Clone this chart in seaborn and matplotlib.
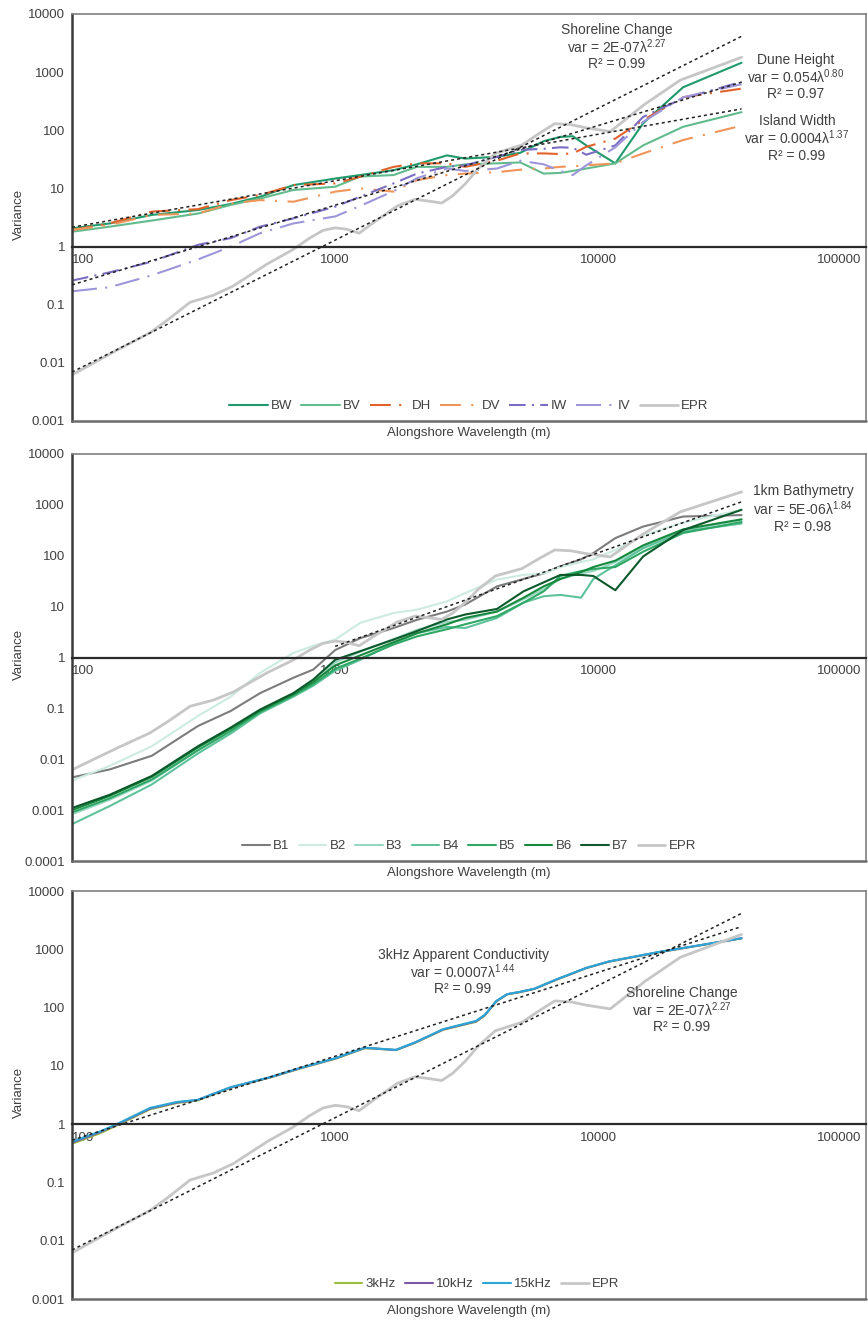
import numpy as np
import pandas as pd
import matplotlib
matplotlib.use("Agg")
import matplotlib.pyplot as plt
import seaborn as sns
from matplotlib.ticker import FixedLocator, NullLocator, NullFormatter

# ---------------------------------------------------------------- data
# Shoreline change (EPR) variance, shared by all three panels
lam_epr = [100, 128, 148, 198, 230, 281, 344, 410, 551, 692, 800, 900, 1000, 1100,
           1233, 1400, 1722, 2013, 2300, 2540, 2800, 3120, 3500, 4060, 5130, 6000,
           6830, 7870, 9000, 11100, 15000, 20500, 35000]
epr = [0.0062, 0.0115, 0.0165, 0.033, 0.054, 0.11, 0.145, 0.21, 0.5, 0.89, 1.4, 1.9,
       2.1, 2.0, 1.7, 2.6, 5.0, 6.5, 6.0, 5.6, 7.5, 12, 22, 40, 56, 90, 130, 125, 110,
       95, 280, 730, 1800]

# Panel 1: beach, dune and island metrics
lam1 = [100, 139, 201, 301, 401, 519, 694, 1000, 1245, 1667, 2045, 2660, 3120, 4120,
        5050, 6200, 7170, 8000, 9000, 11600, 14800, 21000, 35000]
bw = [2.06, 2.5, 3.5, 4.25, 5.4, 7.2, 11.4, 14.8, 17, 20.6, 26, 37, 32.6, 35, 41, 65,
      77, 79, 55, 27, 132, 550, 1450]
bv = [1.8, 2.2, 2.8, 3.7, 5.2, 6.7, 9.4, 10.7, 16, 17, 23.5, 23.5, 26, 27, 28, 18,
      18.5, 20, 22, 27, 55, 115, 205]
dh = [1.93, 2.5, 4.0, 4.4, 6.3, 7.7, 11.4, 12.2, 15.9, 23.5, 27, 27, 23.5, 30, 40, 40,
      39, 40, 52, 72, 150, 370, 520]
dv = [1.93, 2.35, 3.5, 3.7, 5.5, 6.3, 5.9, 8.8, 10, 8.8, 13.9, 17, 18, 19, 21, 22,
      23.5, 24, 25, 27, 40, 68, 120]
iw = [0.26, 0.36, 0.55, 1.07, 1.4, 2.2, 3.06, 4.85, 7.2, 12.2, 18, 23.5, 25, 35, 46,
      48, 51, 50, 38, 55, 170, 355, 680]
iv = [0.17, 0.2, 0.32, 0.6, 1.0, 1.7, 2.5, 3.3, 5.0, 9, 15, 22, 20, 22, 30, 26, 20,
      17, 25, 51, 140, 370, 620]

# Panel 2: bathymetry profiles
lam2 = [100, 139, 201, 301, 401, 519, 694, 826, 1000, 1245, 1667, 2045, 2660, 3120,
        4120, 5200, 6200, 7180, 8600, 9570, 11600, 14800, 21000, 35000]
b1 = [0.0044, 0.0063, 0.0117, 0.045, 0.089, 0.2, 0.4, 0.58, 1.4, 2.4, 3.8, 5.5, 8, 11,
      25, 35, 45, 62, 85, 113, 222, 375, 590, 630]
b2 = [0.0038, 0.0074, 0.018, 0.071, 0.17, 0.5, 1.23, 1.7, 2.25, 4.8, 7.5, 8.7, 12.7,
      18.5, 34, 42, 45, 60, 75, 85, 130, 250, 450, 800]
b3 = [0.00083, 0.0016, 0.0038, 0.015, 0.035, 0.085, 0.19, 0.35, 0.8, 1.3, 2.3, 3.5,
      5.0, 5.5, 8.0, 14, 22, 35, 45, 50, 75, 150, 320, 500]
b4 = [0.00053, 0.0012, 0.0032, 0.013, 0.032, 0.08, 0.17, 0.28, 0.55, 0.9, 1.9, 3.0,
      4.0, 3.8, 6.0, 12, 16, 17, 15, 35, 65, 140, 300, 430]
b5 = [0.0009, 0.0017, 0.004, 0.015, 0.036, 0.085, 0.18, 0.3, 0.6, 0.95, 1.8, 2.6, 3.6,
      4.5, 6.5, 12, 20, 40, 50, 55, 60, 120, 280, 460]
b6 = [0.001, 0.0019, 0.0045, 0.017, 0.04, 0.09, 0.19, 0.33, 0.7, 1.1, 2.0, 3.0, 4.5,
      6.0, 8.0, 15, 25, 35, 48, 60, 80, 160, 330, 520]
b7 = [0.0011, 0.002, 0.0047, 0.018, 0.042, 0.095, 0.2, 0.37, 0.9, 1.33, 2.25, 3.3, 5.6,
      7.0, 9.0, 20, 30, 42, 42, 40, 21, 97, 320, 800]

# Panel 3: apparent conductivity
lam3 = [100, 128, 148, 198, 250, 300, 400, 566, 736, 1000, 1294, 1400, 1700, 2000,
        2570, 3430, 3700, 4100, 4500, 5000, 5700, 7000, 9000, 11000, 17000, 25000, 35000]
c3k = [0.46, 0.7, 0.95, 1.8, 2.3, 2.55, 4.2, 6.3, 9.0, 13.2, 20, 19.8, 18.6, 24.5, 41.5,
       57, 73, 128, 168, 183, 208, 305, 475, 615, 890, 1190, 1540]
c10k = [0.48, 0.73, 0.98, 1.85, 2.35, 2.6, 4.25, 6.35, 9.1, 13.4, 20.3, 19.9, 18.7, 24.8,
        42, 58, 74, 129, 169, 184, 209, 308, 478, 618, 895, 1195, 1545]
c15k = [0.5, 0.75, 1.0, 1.9, 2.4, 2.6, 4.3, 6.4, 9.2, 13.5, 20.5, 20, 18.8, 25, 42.5, 59,
        75, 130, 170, 185, 210, 310, 480, 620, 900, 1200, 1550]

# Power-law fits  var = a * lambda^b  (coefficient, exponent, fitted range)
fit_shore = (2e-7, 2.27, [100, 35000])
fit_dune = (0.054, 0.80, [100, 35000])
fit_island = (0.0004, 1.37, [100, 35000])
fit_bathy = (5e-6, 1.84, [1000, 35000])
fit_cond = (0.0007, 1.44, [100, 35000])

xtick_vals = [100, 1000, 10000, 100000]
xtick_text = ["100", "1000", "10000", "100000"]

# ---------------------------------------------------------------- style
sns.set_style("white")
plt.rcParams["font.family"] = ["Liberation Sans", "DejaVu Sans"]
plt.rcParams["mathtext.fontset"] = "custom"
plt.rcParams["mathtext.rm"] = "Liberation Sans"
plt.rcParams["mathtext.it"] = "Liberation Sans:italic"
TXT = "#404040"
FS = 9.5

W, H = 868, 1324
fig = plt.figure(figsize=(W / 100, H / 100), dpi=100)


def add_axes(top, bottom):
    return fig.add_axes([72 / W, 1 - bottom / H, (866 - 72) / W, (bottom - top) / H])


def ftext(x, y, s, **kw):
    fig.text(x / W, 1 - y / H, s, ha="center", va="center", fontsize=kw.pop("fontsize", 10),
             color=TXT, **kw)


def style_axes(ax, ydecades):
    ax.set_xscale("log")
    ax.set_yscale("log")
    ax.set_xlim(100, 104000)
    ax.set_ylim(10.0 ** ydecades[0], 10.0 ** ydecades[-1])
    ax.spines["bottom"].set_position(("data", 1))
    ax.spines["bottom"].set_color("#2b2b2b")
    ax.spines["bottom"].set_linewidth(1.6)
    ax.spines["left"].set_color("#3a3a3a")
    ax.spines["left"].set_linewidth(1.8)
    for s in ("top", "right"):
        ax.spines[s].set_color("#808080")
        ax.spines[s].set_linewidth(1.2)
        ax.spines[s].set_visible(True)
    ax.plot([0, 1], [0, 0], transform=ax.transAxes, color="#6a6a6a", lw=1.8,
            clip_on=False, zorder=6)
    yt = [10.0 ** d for d in ydecades]
    ax.yaxis.set_major_locator(FixedLocator(yt))
    ax.yaxis.set_minor_locator(NullLocator())
    ax.set_yticklabels([("%g" % v) if v >= 1 else ("%.*f" % (-d, v))
                        for v, d in zip(yt, ydecades)])
    ax.xaxis.set_major_locator(FixedLocator(xtick_vals))
    minors = [m * 10 ** e for e in (2, 3, 4) for m in range(2, 10)]
    ax.xaxis.set_minor_locator(FixedLocator(minors))
    ax.xaxis.set_minor_formatter(NullFormatter())
    labs = ax.set_xticklabels(xtick_text)
    labs[0].set_ha("left")
    labs[-1].set_ha("right")
    ax.tick_params(axis="x", which="major", direction="inout", length=7, width=1.3,
                   color="#2b2b2b", pad=2, labelsize=FS, labelcolor=TXT)
    ax.tick_params(axis="x", which="minor", direction="inout", length=4, width=1.0,
                   color="#2b2b2b")
    ax.tick_params(axis="y", which="major", direction="out", length=4, width=1.3,
                   color="#3a3a3a", pad=1, labelsize=FS, labelcolor=TXT)
    ax.set_xlabel("")
    ax.set_ylabel("")


def series(ax, x, y, color, label, lw=1.5, ls="-", z=2):
    sns.lineplot(x=x, y=y, ax=ax, color=color, lw=lw, linestyle=ls, label=label,
                 zorder=z, legend=False)


def trend(ax, fit):
    a, b, xr = fit
    xr = np.array(xr, dtype=float)
    ax.plot(xr, a * xr ** b, color="#222222", lw=1.1, linestyle=(0, (2, 2)), zorder=4)


def legend(ax, names, hl, anchor_x):
    handles, labels = ax.get_legend_handles_labels()
    pick = [handles[labels.index(n)] for n in names]
    ax.legend(pick, names, ncol=len(names), loc="lower center",
              bbox_to_anchor=(anchor_x, 0.0), frameon=False, fontsize=FS,
              handlelength=hl, handletextpad=0.25, columnspacing=0.7,
              borderaxespad=0.25, labelcolor=TXT)


EPR_C = "#c6c6c6"

# ---------------------------------------------------------------- panel 1
ax1 = add_axes(14, 421)
style_axes(ax1, [-3, -2, -1, 0, 1, 2, 3, 4])
series(ax1, lam1, bw, "#1f9a6c", "BW")
series(ax1, lam1, bv, "#62bb8c", "BV")
series(ax1, lam1, dh, "#e2622c", "DH", ls=(0, (10, 4, 1, 4)))
series(ax1, lam1, dv, "#f0955a", "DV", ls=(0, (10, 5, 1, 5)))
series(ax1, lam1, iw, "#7a6ec4", "IW", ls=(0, (8, 3, 1, 3)))
series(ax1, lam1, iv, "#9e96da", "IV", ls=(0, (12, 4, 1, 4)))
series(ax1, lam_epr, epr, EPR_C, "EPR", lw=2.0)
for f in (fit_shore, fit_dune, fit_island):
    trend(ax1, f)
legend(ax1, ["BW", "BV", "DH", "DV", "IW", "IV", "EPR"], 2.9, 0.5)

ftext(617, 30, "Shoreline Change")
ftext(617, 47, r"var = 2E-07λ$^{\mathit{2.27}}$")
ftext(617, 64, "R² = 0.99")
ftext(796, 60, "Dune Height")
ftext(796, 77, r"var = 0.054λ$^{\mathit{0.80}}$")
ftext(796, 94, "R² = 0.97")
ftext(797, 121, "Island Width")
ftext(797, 138, r"var = 0.0004λ$^{\mathit{1.37}}$")
ftext(797, 156, "R² = 0.99")

# ---------------------------------------------------------------- panel 2
ax2 = add_axes(454, 861)
style_axes(ax2, [-4, -3, -2, -1, 0, 1, 2, 3, 4])
bath = [("B1", b1, "#7c7c7c"), ("B2", b2, "#cdebe1"), ("B3", b3, "#97d7c2"),
        ("B4", b4, "#5ec29a"), ("B5", b5, "#2fa866"), ("B6", b6, "#17893e"),
        ("B7", b7, "#0c5a2b")]
for name, vals, col in bath:
    series(ax2, lam2, vals, col, name)
series(ax2, lam_epr, epr, EPR_C, "EPR", lw=2.0)
trend(ax2, fit_bathy)
legend(ax2, ["B1", "B2", "B3", "B4", "B5", "B6", "B7", "EPR"], 2.1, 0.5)

ftext(803, 491, "1km Bathymetry")
ftext(803, 509, r"var = 5E-06λ$^{\mathit{1.84}}$")
ftext(803, 527, "R² = 0.98")

# ---------------------------------------------------------------- panel 3
ax3 = add_axes(891, 1299)
style_axes(ax3, [-3, -2, -1, 0, 1, 2, 3, 4])
series(ax3, lam3, c3k, "#9cbc3b", "3kHz")
series(ax3, lam3, c10k, "#7d58a9", "10kHz")
series(ax3, lam3, c15k, "#2ba6d6", "15kHz")
series(ax3, lam_epr, epr, EPR_C, "EPR", lw=2.0)
trend(ax3, fit_cond)
trend(ax3, fit_shore)
legend(ax3, ["3kHz", "10kHz", "15kHz", "EPR"], 2.1, 0.51)

ftext(463, 955, "3kHz Apparent Conductivity")
ftext(463, 972, r"var = 0.0007λ$^{\mathit{1.44}}$")
ftext(463, 989, "R² = 0.99")
ftext(682, 993, "Shoreline Change")
ftext(682, 1010, r"var = 2E-07λ$^{\mathit{2.27}}$")
ftext(682, 1027, "R² = 0.99")

# ---------------------------------------------------------------- axis titles
for top, bottom in ((14, 421), (454, 861), (891, 1299)):
    ftext(19, (top + bottom) / 2 - 3, "Variance", rotation=90, fontsize=FS)
    ftext(469, bottom + 12, "Alongshore Wavelength (m)", fontsize=FS)

fig.savefig("out.png", dpi=100, facecolor="white")
